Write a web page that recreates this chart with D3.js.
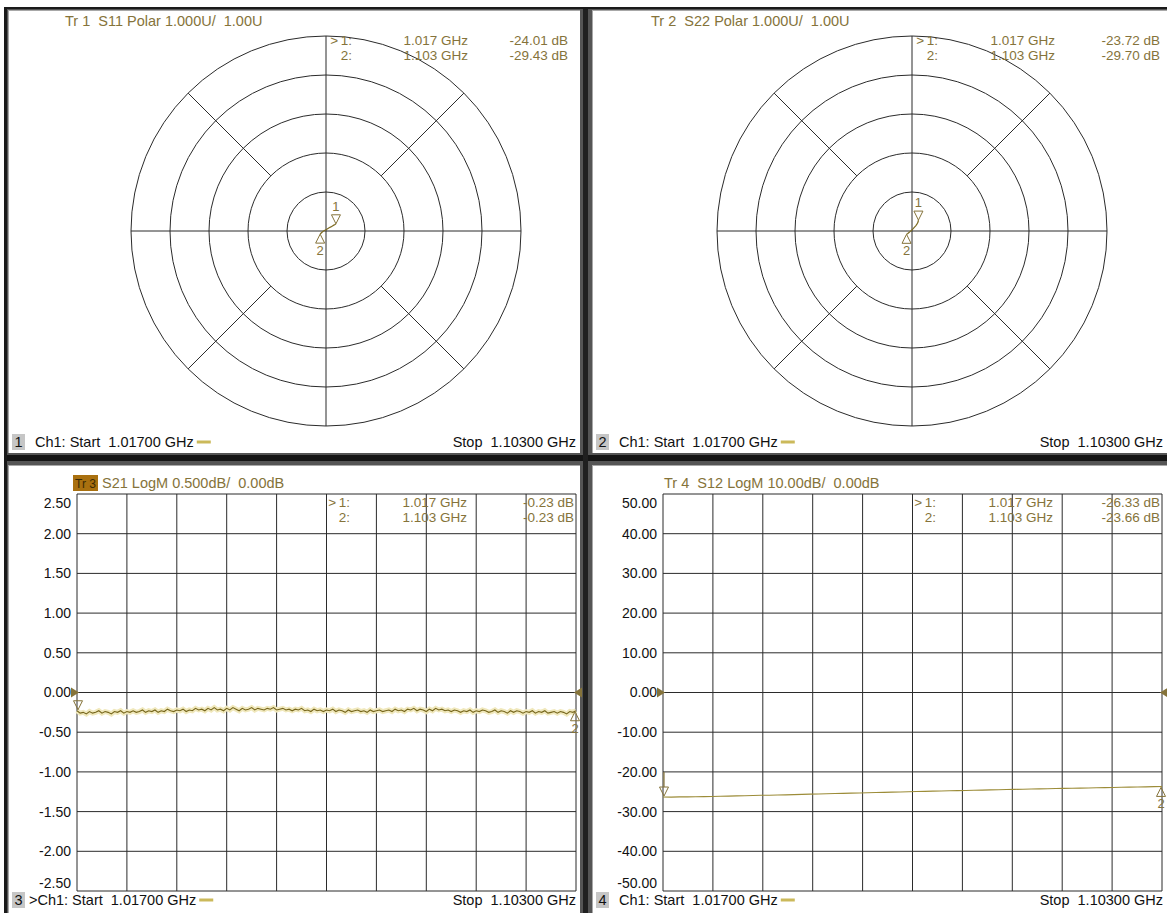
<!DOCTYPE html>
<html><head><meta charset="utf-8">
<script src="https://cdn.jsdelivr.net/npm/d3@7"></script>
<style>
html,body{margin:0;padding:0;background:#fff;}
svg{display:block;font-family:"Liberation Sans",Arial,sans-serif;}
text{white-space:pre;}
</style>
</head><body>
<svg id="c" width="1167" height="913"></svg>
<script>
// ---------------- DATA ----------------
const freqStart = 1.017, freqStop = 1.103;
const markerFreqs = [1.017, 1.103];
const polarRings = [0.2, 0.4, 0.6, 0.8, 1.0];
const spokeAngles = [45, 135, 225, 315];

// S11 polar trace (real, imag), start -> stop
const s11Re = [0.051, 0.046, 0.040, 0.033, 0.025, 0.016, 0.008, 0.000, -0.008, -0.016, -0.022, -0.027, -0.030];
const s11Im = [0.037, 0.033, 0.030, 0.026, 0.021, 0.017, 0.012, 0.007, 0.002, -0.003, -0.008, -0.013, -0.016];
const s11MarkerDb = [-24.01, -29.43];

// S22 polar trace
const s22Re = [0.033, 0.032, 0.030, 0.026, 0.020, 0.013, 0.006, -0.002, -0.010, -0.017, -0.023, -0.028];
const s22Im = [0.056, 0.050, 0.043, 0.036, 0.028, 0.020, 0.012, 0.004, -0.003, -0.009, -0.014, -0.017];
const s22MarkerDb = [-23.72, -29.70];

// S21 LogM trace (dB)
const s21Values = [
-0.23,-0.26,-0.25,-0.27,-0.24,-0.26,-0.25,-0.23,-0.26,-0.24,-0.25,-0.27,-0.24,-0.25,-0.23,-0.26,-0.24,-0.25,-0.23,-0.25,
-0.24,-0.22,-0.25,-0.23,-0.24,-0.22,-0.25,-0.23,-0.24,-0.21,-0.23,-0.24,-0.22,-0.23,-0.21,-0.24,-0.22,-0.23,-0.20,-0.22,
-0.21,-0.23,-0.20,-0.22,-0.19,-0.22,-0.21,-0.23,-0.20,-0.22,-0.19,-0.21,-0.23,-0.20,-0.22,-0.21,-0.19,-0.22,-0.20,-0.21,
-0.22,-0.20,-0.21,-0.19,-0.22,-0.21,-0.20,-0.22,-0.21,-0.23,-0.21,-0.22,-0.20,-0.23,-0.22,-0.24,-0.21,-0.23,-0.22,-0.24,
-0.22,-0.23,-0.21,-0.24,-0.22,-0.23,-0.25,-0.22,-0.24,-0.23,-0.22,-0.24,-0.23,-0.25,-0.22,-0.24,-0.23,-0.22,-0.24,-0.23,
-0.22,-0.24,-0.21,-0.23,-0.22,-0.24,-0.21,-0.22,-0.20,-0.23,-0.21,-0.22,-0.24,-0.21,-0.23,-0.20,-0.22,-0.21,-0.23,-0.22,
-0.24,-0.22,-0.23,-0.25,-0.23,-0.24,-0.22,-0.25,-0.23,-0.24,-0.22,-0.23,-0.25,-0.24,-0.22,-0.25,-0.23,-0.24,-0.26,-0.23,
-0.25,-0.23,-0.24,-0.26,-0.24,-0.25,-0.23,-0.26,-0.24,-0.25,-0.23,-0.26,-0.25,-0.24,-0.26,-0.24,-0.25,-0.27,-0.24,-0.25,-0.23];
const s21MarkerDb = [-0.23, -0.23];
const s21Ticks = [2.5, 2.0, 1.5, 1.0, 0.5, 0.0, -0.5, -1.0, -1.5, -2.0, -2.5];

// S12 LogM trace (dB)
const s12Values = [
-26.33,-26.35,-26.30,-26.28,-26.25,-26.22,-26.20,-26.15,-26.10,-26.05,
-26.00,-25.95,-25.90,-25.88,-25.82,-25.78,-25.72,-25.66,-25.60,-25.55,
-25.50,-25.45,-25.40,-25.35,-25.30,-25.26,-25.20,-25.15,-25.10,-25.06,
-25.00,-24.95,-24.90,-24.85,-24.80,-24.76,-24.72,-24.68,-24.62,-24.58,
-24.52,-24.48,-24.44,-24.40,-24.36,-24.32,-24.28,-24.24,-24.20,-24.16,
-24.12,-24.08,-24.04,-24.00,-23.96,-23.92,-23.88,-23.84,-23.80,-23.76,
-23.72,-23.66];
const s12MarkerDb = [-26.33, -23.66];
const s12Ticks = [50, 40, 30, 20, 10, 0, -10, -20, -30, -40, -50];

// ---------------- DRAW ----------------
const olive = "#85733a", traceCol = "#7d6b22", gridCol = "#2b2b2b";
const svg = d3.select("#c");
svg.append("rect").attr("width",1167).attr("height",913).attr("fill","#fff");
svg.append("rect").attr("x",4).attr("y",7).attr("width",1163).attr("height",906).attr("fill","#555");
svg.append("rect").attr("x",4).attr("y",455).attr("width",1163).attr("height",6).attr("fill","#151515");
svg.append("rect").attr("x",583).attr("y",7).attr("width",5).attr("height",906).attr("fill","#202020");
svg.append("rect").attr("x",4).attr("y",7).attr("width",1163).attr("height",2).attr("fill","#1a1a1a");
svg.append("rect").attr("x",4).attr("y",7).attr("width",3).attr("height",906).attr("fill","#1a1a1a");

const panels = [
  {x:8, y:10, w:572, h:443},
  {x:592, y:10, w:575, h:443},
  {x:8, y:465, w:572, h:448},
  {x:592, y:465, w:575, h:448}
];
panels.forEach(p => {
  svg.append("rect").attr("x",p.x).attr("y",p.y).attr("width",p.w).attr("height",p.h).attr("fill","#fff");
  svg.append("line").attr("x1",p.x).attr("x2",p.x+p.w).attr("y1",p.y+0.5).attr("y2",p.y+0.5).attr("stroke","#a8a8a8");
  svg.append("line").attr("x1",p.x+0.5).attr("x2",p.x+0.5).attr("y1",p.y).attr("y2",p.y+p.h).attr("stroke","#a8a8a8");
});

function txt(g, x, y, s, opt) {
  opt = opt || {};
  return g.append("text").attr("x",x).attr("y",y).text(s)
    .attr("font-size", opt.size || 14.5)
    .attr("fill", opt.fill || "#111")
    .attr("text-anchor", opt.anchor || "start");
}

function markerTable(x1, xf, xd, y0, dbs) {
  const lab = [">\u20091:", "2:"];
  dbs.forEach((v,i) => {
    const y = y0 + i*14.5;
    txt(svg, x1, y, lab[i], {fill:olive, anchor:"end", size:13.5});
    txt(svg, xf, y, markerFreqs[i].toFixed(3) + " GHz", {fill:olive, anchor:"end", size:13.5});
    txt(svg, xd, y, v.toFixed(2) + " dB", {fill:olive, anchor:"end", size:13.5});
  });
}

function footer(p, num, prefix, baseline, stopX) {
  svg.append("rect").attr("x",p.x+4).attr("y",baseline-13).attr("width",13).attr("height",16).attr("fill","#c6c6c6");
  txt(svg, p.x+10.5, baseline, num, {anchor:"middle"});
  const t = txt(svg, p.x+27 - (prefix ? 6 : 0), baseline, (prefix?">":"") + "Ch1: Start  " + freqStart.toFixed(5) + " GHz");
  const bb = t.node().getBBox();
  svg.append("line").attr("x1",bb.x+bb.width+3).attr("x2",bb.x+bb.width+17)
    .attr("y1",baseline-5).attr("y2",baseline-5).attr("stroke","#cbb95a").attr("stroke-width",3);
  txt(svg, stopX, baseline, "Stop  " + freqStop.toFixed(5) + " GHz", {anchor:"end"});
}

function downTri(x, y) { return `M${x},${y} L${x-4.5},${y-9} L${x+4.5},${y-9} Z`; }
function upTri(x, y) { return `M${x},${y} L${x-4.5},${y+9} L${x+4.5},${y+9} Z`; }

function polarPanel(cx, cy, R, re, im, header, hdrX, mk) {
  const x = d3.scaleLinear().domain([-1,1]).range([cx-R, cx+R]);
  const y = d3.scaleLinear().domain([-1,1]).range([cy+R, cy-R]);
  const g = svg.append("g");
  polarRings.forEach(r => {
    g.append("circle").attr("cx",x(0)).attr("cy",y(0)).attr("r",x(r)-x(0))
      .attr("fill","none").attr("stroke",gridCol).attr("stroke-width",1);
  });
  g.append("line").attr("x1",x(-1)).attr("x2",x(1)).attr("y1",y(0)).attr("y2",y(0)).attr("stroke",gridCol);
  g.append("line").attr("x1",x(0)).attr("x2",x(0)).attr("y1",y(-1)).attr("y2",y(1)).attr("stroke",gridCol);
  spokeAngles.forEach(a => {
    const c = Math.cos(a*Math.PI/180), s = Math.sin(a*Math.PI/180);
    g.append("line").attr("x1",x(0.4*c)).attr("y1",y(0.4*s)).attr("x2",x(1*c)).attr("y2",y(1*s)).attr("stroke",gridCol);
  });
  const pts = re.map((r,i) => [r, im[i]]);
  g.append("path").datum(pts).attr("fill","none").attr("stroke",traceCol).attr("stroke-width",1.2)
    .attr("d", d3.line().x(d=>x(d[0])).y(d=>y(d[1])));
  const p1 = pts[0], p2 = pts[pts.length-1];
  g.append("path").attr("d",downTri(x(p1[0]),y(p1[1]))).attr("fill","none").attr("stroke",olive);
  txt(g, x(p1[0]), y(p1[1])-13, "1", {fill:olive, anchor:"middle", size:13});
  g.append("path").attr("d",upTri(x(p2[0]),y(p2[1]))).attr("fill","none").attr("stroke",olive);
  txt(g, x(p2[0]), y(p2[1])+21, "2", {fill:olive, anchor:"middle", size:13});
  txt(svg, hdrX, 26, header, {fill:olive});
  markerTable(mk[0], mk[1], mk[2], 45, mk[3]);
}

function rectPanel(area, ticks, values, mk, stemTo) {
  const x = d3.scaleLinear().domain([freqStart, freqStop]).range([area.l, area.r]);
  const y = d3.scaleLinear().domain([ticks[ticks.length-1], ticks[0]]).range([area.b, area.t]);
  const g = svg.append("g");
  const vx = d3.range(11).map(i => freqStart + i*(freqStop-freqStart)/10);
  vx.forEach(f => g.append("line").attr("x1",x(f)).attr("x2",x(f)).attr("y1",area.t).attr("y2",area.b).attr("stroke",gridCol));
  ticks.forEach(t => g.append("line").attr("x1",area.l).attr("x2",area.r).attr("y1",y(t)).attr("y2",y(t)).attr("stroke",gridCol));
  const ax = g.append("g").attr("transform",`translate(${area.l},0)`)
    .call(d3.axisLeft(y).tickValues(ticks).tickSize(0).tickPadding(6).tickFormat(d => d.toFixed(2)));
  ax.select(".domain").remove();
  ax.selectAll("text").attr("font-size",14).attr("font-family",'"Liberation Sans",Arial,sans-serif').attr("fill","#111");
  ax.selectAll(".tick").filter(d => d === ticks[0]).select("text").attr("dy","0.95em");
  ax.selectAll(".tick").filter(d => d === ticks[ticks.length-1]).select("text").attr("dy","-0.25em");
  const fx = values.map((v,i) => freqStart + i*(freqStop-freqStart)/(values.length-1));
  const line = d3.line().x((d,i)=>x(fx[i])).y(d=>y(d));
  if (area.halo) {
    g.append("path").datum(values).attr("fill","none").attr("stroke","#f0e8bc").attr("stroke-width",5).attr("d",line);
  }
  g.append("path").datum(values).attr("fill","none").attr("stroke",area.col).attr("stroke-width",1.1).attr("d",line);
  g.append("path").attr("d",`M${area.l-6},${y(0)-5} L${area.l+2},${y(0)} L${area.l-6},${y(0)+5} Z`).attr("fill",olive);
  g.append("path").attr("d",`M${area.r+6},${y(0)-5} L${area.r-2},${y(0)} L${area.r+6},${y(0)+5} Z`).attr("fill",olive);
  const m1x = x(fx[0]) + 1, m1y = y(values[0]) - 1;
  if (stemTo !== undefined) {
    g.append("line").attr("x1",m1x).attr("x2",m1x).attr("y1",y(stemTo)).attr("y2",m1y-9).attr("stroke",olive).attr("stroke-width",1.2);
  }
  g.append("path").attr("d",downTri(m1x, m1y)).attr("fill","none").attr("stroke",olive);
  const m2x = x(fx[fx.length-1]) - 1, m2y = y(values[values.length-1]) + 1;
  g.append("path").attr("d",upTri(m2x, m2y)).attr("fill","none").attr("stroke",olive);
  txt(g, m2x, m2y+21, "2", {fill:olive, anchor:"middle", size:13});
  markerTable(mk[0], mk[1], mk[2], 507, mk[3]);
}

polarPanel(326, 231, 195, s11Re, s11Im, "Tr 1  S11 Polar 1.000U/  1.00U", 65, [352, 468, 568, s11MarkerDb]);
polarPanel(912, 231, 195, s22Re, s22Im, "Tr 2  S22 Polar 1.000U/  1.00U", 651, [938, 1055, 1160, s22MarkerDb]);
footer(panels[0], "1", false, 447, 576);
footer(panels[1], "2", false, 447, 1163);

svg.append("rect").attr("x",73).attr("y",475).attr("width",25).attr("height",16).attr("fill","#a9700f");
txt(svg, 75, 488, "Tr 3", {fill:"#3a2a05", size:13.5}).attr("textLength",21).attr("lengthAdjust","spacingAndGlyphs");
txt(svg, 102, 488, "S21 LogM 0.500dB/  0.00dB", {fill:olive});
rectPanel({l:77, r:576, t:494, b:891, col:"#76661c", halo:true}, s21Ticks, s21Values, [350, 467, 574, s21MarkerDb]);
footer(panels[2], "3", true, 905, 576);

txt(svg, 664, 488, "Tr 4  S12 LogM 10.00dB/  0.00dB", {fill:olive});
rectPanel({l:663, r:1162, t:494, b:891, col:"#9c8c38", halo:false}, s12Ticks, s12Values, [936, 1053, 1160, s12MarkerDb], -20);
footer(panels[3], "4", false, 905, 1163);
</script>
</body></html>
